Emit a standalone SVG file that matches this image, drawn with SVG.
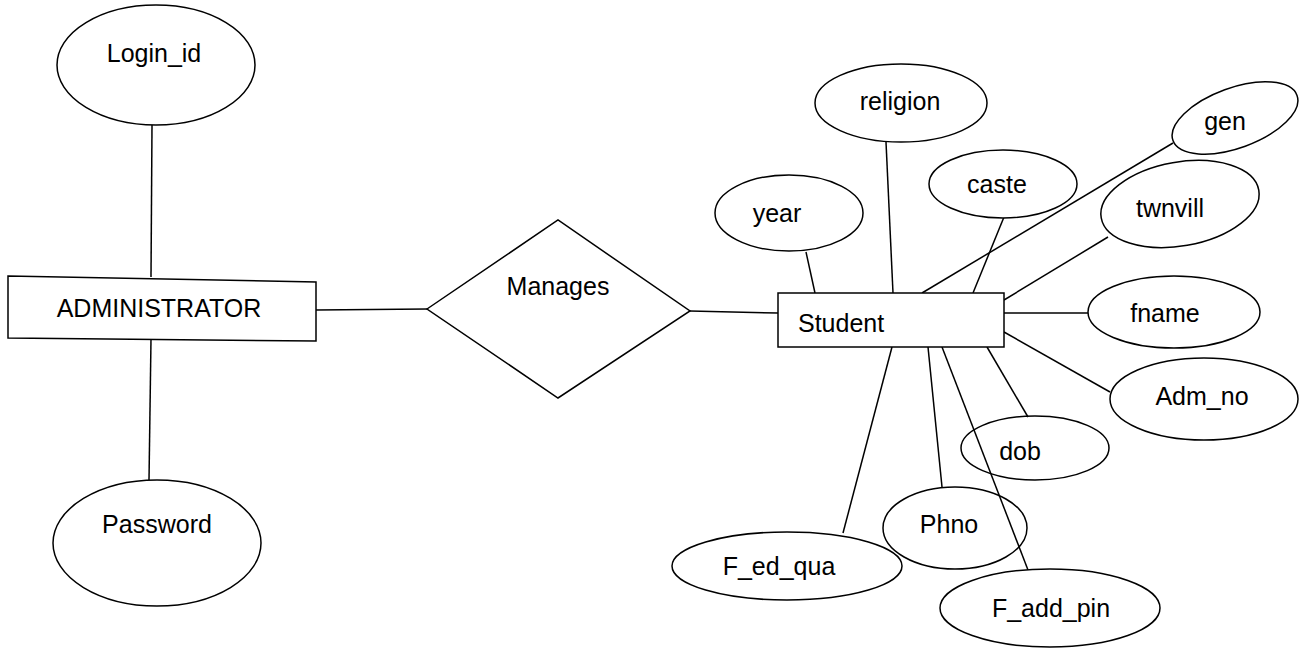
<svg xmlns="http://www.w3.org/2000/svg" width="1308" height="649" viewBox="0 0 1308 649">
<style>
.s{fill:#fff;stroke:#000;stroke-width:1.5}
.c line{stroke:#000;stroke-width:1.5}
text{font-family:"Liberation Sans",Arial,sans-serif;font-size:25px;fill:#000;text-anchor:middle}
</style>
<rect width="1308" height="649" fill="#fff"/>
<g class="c" id="connectors">
<line x1="152" y1="125" x2="151" y2="277"/>
<line x1="151" y1="339" x2="149" y2="480"/>
<line x1="316" y1="310" x2="427" y2="309"/>
<line x1="690" y1="311" x2="778" y2="313"/>
<line x1="806" y1="252" x2="815" y2="293"/>
<line x1="886" y1="142" x2="893" y2="293"/>
<line x1="922" y1="293" x2="1173" y2="143"/>
<line x1="1004" y1="217" x2="973" y2="293"/>
<line x1="1004" y1="300" x2="1108" y2="237"/>
<line x1="1004" y1="313" x2="1088" y2="313"/>
<line x1="1004" y1="332" x2="1110" y2="392"/>
<line x1="987" y1="347" x2="1028" y2="417"/>
<line x1="928" y1="347" x2="942" y2="487"/>
<line x1="942" y1="347" x2="1028" y2="570"/>
<line x1="892" y1="347" x2="843" y2="533"/>
</g>
<g id="login_id"><ellipse class="s" cx="156" cy="65" rx="99" ry="60"/><text x="154" y="62">Login_id</text></g>
<g id="administrator"><polygon class="s" points="8,276 316,282 316,341 8,338"/><text x="159" y="317">ADMINISTRATOR</text></g>
<g id="password"><ellipse class="s" cx="157" cy="543" rx="104" ry="63"/><text x="157" y="533">Password</text></g>
<g id="manages"><polygon class="s" points="427,309 558,220 690,311 558,398"/><text x="558" y="295">Manages</text></g>
<g id="student"><rect class="s" x="778" y="293" width="226" height="54"/><text x="798" y="332" style="text-anchor:start">Student</text></g>
<g id="religion"><ellipse class="s" cx="901" cy="103" rx="86" ry="39"/><text x="900" y="110">religion</text></g>
<g id="year"><ellipse class="s" cx="789" cy="213" rx="74" ry="38"/><text x="777" y="222">year</text></g>
<g id="caste"><ellipse class="s" cx="1003" cy="184" rx="74" ry="34"/><text x="997" y="193">caste</text></g>
<g id="gen"><ellipse class="s" cx="1235" cy="118" rx="66" ry="30" transform="rotate(-20 1235 118)"/><text x="1225" y="130">gen</text></g>
<g id="twnvill"><ellipse class="s" cx="1180" cy="204" rx="80" ry="42" transform="rotate(-10 1180 204)"/><text x="1170" y="217">twnvill</text></g>
<g id="fname"><ellipse class="s" cx="1174" cy="312" rx="86" ry="36"/><text x="1165" y="322">fname</text></g>
<g id="adm_no"><ellipse class="s" cx="1204" cy="399" rx="94" ry="41"/><text x="1202" y="405">Adm_no</text></g>
<g id="dob"><ellipse class="s" cx="1035" cy="448" rx="74" ry="32" style="fill:none"/><text x="1020" y="460">dob</text></g>
<g id="phno"><ellipse class="s" cx="955" cy="528" rx="72" ry="41" style="fill:none"/><text x="949" y="533">Phno</text></g>
<g id="f_ed_qua"><ellipse class="s" cx="787" cy="566" rx="115" ry="34" style="fill:none"/><text x="779" y="575">F_ed_qua</text></g>
<g id="f_add_pin"><ellipse class="s" cx="1050" cy="608" rx="110" ry="39"/><text x="1051" y="617">F_add_pin</text></g>
</svg>
